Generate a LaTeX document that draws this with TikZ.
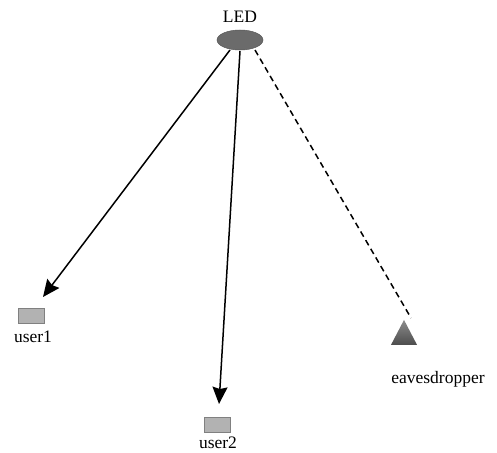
\documentclass[tikz,border=0pt]{standalone}
\usepackage{fontspec}
\setmainfont{Liberation Serif}
\usetikzlibrary{arrows.meta,shapes.geometric}
\begin{document}
\begin{tikzpicture}[x=1pt,y=-1pt,
  lbl/.style={font=\fontsize{17.5}{19}\selectfont, inner sep=0pt},
  ledshape/.style={ellipse, minimum width=46pt, minimum height=20pt, inner sep=0pt,
    fill=black!58, draw=black!65, line width=0.5pt},
  userbox/.style={rectangle, minimum width=26pt, minimum height=15pt, inner sep=0pt,
    fill=black!30, draw=black!50, line width=0.8pt},
  evetri/.style={isosceles triangle, isosceles triangle apex angle=55, shape border rotate=90,
    minimum height=25pt, inner sep=0pt, top color=black!45, bottom color=black!70},
  link/.style={line width=1.5pt, -{Stealth[length=17pt,width=15pt,inset=2pt]}},
  leak/.style={line width=1.5pt, dash pattern=on 6pt off 4pt}
]
\useasboundingbox (0,0) rectangle (497,452);

% transmitter
\node[ledshape] (led) at (240,40) {};
\node[lbl] (ledlabel) at (240,17) {LED};

% legitimate receivers
\node[userbox] (u1) at (31,315.5) {};
\node[lbl] (u1label) at (33,337) {user1};
\node[userbox] (u2) at (217.5,424.5) {};
\node[lbl] (u2label) at (218,443) {user2};

% eavesdropper
\node[evetri] (eve) at (404,337) {};
\node[lbl] (evelabel) at (438,379) {eavesdropper};

% links
\coordinate (s1) at (230,50);
\coordinate (s2) at (240,51);
\coordinate (s3) at (255,50);
\coordinate (t1) at (43,297);
\coordinate (t2) at (219,404);
\coordinate (t3) at (411,318);
\draw[link] (s1) -- (t1);
\draw[link] (s2) -- (t2);
\draw[leak] (s3) -- (t3);
\end{tikzpicture}
\end{document}
